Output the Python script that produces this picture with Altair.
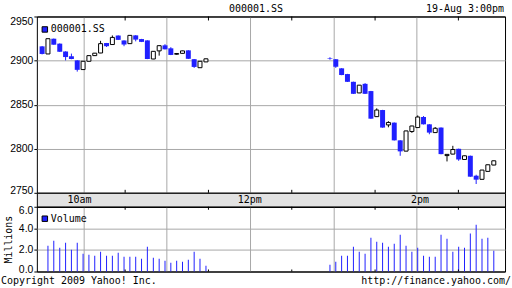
import altair as alt
import pandas as pd

BLUE = "#2020ff"
GRID = "#a8a8a8"
BAND = "#e2e2e2"
MONO = "DejaVu Sans Mono"
SANS = "Liberation Sans"

symbol = "000001.SS"
stamp = "19-Aug 3:00pm"
copyright_text = "Copyright 2009 Yahoo! Inc."
url_text = "http://finance.yahoo.com/"

# bar time in minutes after 9:30 (morning session, then afternoon session)
times = [0.2, 4.4, 8.6, 12.9, 17.1, 21.3, 25.5, 29.7, 33.9, 38.1, 42.3, 46.6, 50.8, 55.0, 59.2,
         63.4, 67.6, 71.8, 76.0, 80.3, 84.5, 88.7, 92.9, 97.1, 101.3, 105.5, 109.7, 113.9, 118.2,
         207.5, 211.7, 215.9, 220.1, 224.4, 228.6, 232.8, 237.0, 241.2, 245.4, 249.6, 253.8, 258.1,
         262.3, 266.5, 270.7, 274.9, 279.1, 283.3, 287.5, 291.8, 296.0, 300.2, 304.4, 308.6, 312.8,
         317.0, 321.2, 325.5]
opens = [2916.1, 2907.5, 2924.8, 2919.2, 2910.3, 2904.9, 2900.2, 2889.8, 2899.2, 2905.6, 2908.6,
         2919.9, 2918.2, 2928.4, 2922.8, 2919.2, 2928.6, 2924.4, 2922.9, 2901.8, 2911.0, 2917.3,
         2913.9, 2907.2, 2908.2, 2911.6, 2901.6, 2891.9, 2898.5,
         2902.6, 2901.5, 2891.2, 2884.7, 2875.9, 2863.3, 2873.6, 2865.4, 2836.4, 2843.9, 2827.0,
         2829.6, 2809.5, 2797.3, 2819.5, 2824.0, 2836.0, 2827.7, 2818.3, 2824.0, 2792.2, 2793.9,
         2799.9, 2787.8, 2792.0, 2769.4, 2765.3, 2774.3, 2781.5]
highs = [2916.5, 2925.0, 2925.0, 2919.5, 2910.5, 2907.9, 2900.5, 2899.5, 2905.8, 2908.6, 2922.4,
         2920.0, 2928.5, 2928.6, 2923.0, 2928.8, 2928.8, 2924.6, 2923.0, 2910.7, 2917.1, 2918.6,
         2915.2, 2908.6, 2911.2, 2911.8, 2901.8, 2899.4, 2902.2,
         2903.8, 2901.7, 2891.4, 2884.9, 2876.1, 2872.3, 2874.4, 2865.6, 2845.8, 2844.1, 2831.2,
         2829.8, 2809.7, 2820.4, 2826.0, 2837.8, 2837.1, 2827.9, 2824.6, 2824.2, 2794.0, 2803.3,
         2800.1, 2792.2, 2792.2, 2770.5, 2776.0, 2782.0, 2786.5]
lows = [2907.0, 2907.5, 2918.0, 2909.8, 2900.2, 2901.5, 2887.5, 2889.5, 2899.0, 2905.4, 2908.4,
        2915.4, 2918.0, 2923.3, 2916.3, 2919.0, 2921.8, 2921.0, 2901.6, 2901.6, 2905.6, 2912.6,
        2906.2, 2906.6, 2908.0, 2901.8, 2891.7, 2891.7, 2898.3,
        2901.0, 2891.7, 2883.4, 2875.7, 2862.1, 2863.1, 2862.1, 2833.9, 2836.2, 2823.8, 2824.3,
        2809.3, 2792.0, 2797.1, 2818.0, 2823.8, 2827.5, 2816.4, 2818.1, 2793.7, 2785.6, 2793.7,
        2786.3, 2787.6, 2768.1, 2760.0, 2765.1, 2774.1, 2781.3]
closes = [2907.5, 2924.8, 2918.0, 2910.0, 2904.0, 2901.8, 2889.5, 2899.2, 2905.6, 2908.4, 2919.2,
          2916.3, 2926.3, 2923.5, 2918.2, 2928.6, 2923.8, 2921.2, 2901.8, 2910.5, 2916.9, 2912.8,
          2906.4, 2908.0, 2911.0, 2902.0, 2892.8, 2899.2, 2902.0,
          2902.0, 2893.0, 2883.6, 2875.9, 2862.3, 2872.1, 2862.3, 2834.1, 2843.9, 2824.0, 2829.8,
          2809.5, 2797.0, 2820.2, 2825.8, 2836.0, 2827.7, 2818.3, 2823.2, 2793.9, 2793.6, 2799.1,
          2787.8, 2792.0, 2768.3, 2764.9, 2775.8, 2781.8, 2786.3]
volumes = [0.0, 2.39, 2.86, 2.20, 2.67, 2.02, 2.67, 1.65, 1.55, 1.46, 1.83, 1.46, 1.46, 1.74, 1.37,
           1.37, 1.37, 1.18, 2.30, 1.27, 1.18, 1.00, 0.81, 1.00, 0.90, 1.09, 1.83, 1.18, 0.53,
           0.62, 0.90, 1.46, 1.46, 2.30, 1.83, 1.65, 3.13, 2.76, 2.67, 2.30, 2.58, 3.41, 2.39,
           1.83, 2.20, 1.46, 1.37, 1.37, 3.41, 3.04, 1.83, 2.30, 2.20, 3.51, 4.34, 3.04, 3.13, 1.93]

hour_marks = [30, 90, 150, 210, 270]
half_hour_marks = [60, 120, 180, 240, 300]
hour_labels = ["10am", "12pm", "2pm"]
hour_label_pos = [30, 150, 270]
price_ticks = [2750, 2800, 2850, 2900, 2950]
vol_ticks = [0, 2, 4, 6]

W, H1, H2, H3 = 470, 177, 14, 65

df = pd.DataFrame({"t": times, "open": opens, "high": highs, "low": lows,
                   "close": closes, "vol": volumes})
df["series"] = symbol
df["vseries"] = "Volume"
ticks_df = pd.DataFrame({"t": half_hour_marks})

xs = alt.Scale(domain=[0, 330], nice=False, zero=False)
x_grid = alt.Axis(values=hour_marks, grid=True, gridColor=GRID, labels=False, ticks=False,
                  domain=False, title=None)


def legend(x, y):
    return alt.Legend(title=None, orient="none", legendX=x, legendY=y, symbolType="square",
                      symbolSize=30, symbolStrokeColor="black", symbolStrokeWidth=1,
                      labelFont=MONO, labelFontSize=10, labelColor="black", labelOffset=1,
                      padding=0)


price_axis = alt.Axis(
    values=price_ticks, format="d", grid=True, domain=False, tickColor="black", tickSize=3,
    labelPadding=1, labelFont=SANS, labelFontSize=10.5, labelColor="black", title=None,
    gridColor={"condition": {"test": "datum.value == 2750 || datum.value == 2950", "value": "black"},
               "value": GRID},
    labelOffset={"condition": [{"test": "datum.value == 2950", "value": 5},
                               {"test": "datum.value == 2750", "value": -2}], "value": 0},
)
py = alt.Scale(domain=[2750, 2950], nice=False, zero=False)

base = alt.Chart(df)
wick = base.mark_rule(strokeWidth=1).encode(
    x=alt.X("t:Q", scale=xs, axis=x_grid),
    y=alt.Y("low:Q", scale=py, axis=price_axis),
    y2="high:Q",
    color=alt.condition("datum.close >= datum.open", alt.value("black"), alt.value(BLUE)),
)
down = base.transform_filter("datum.close < datum.open").mark_bar(size=5).encode(
    x=alt.X("t:Q", scale=xs),
    y=alt.Y("open:Q", scale=py),
    y2="close:Q",
    color=alt.Color("series:N", scale=alt.Scale(domain=[symbol], range=[BLUE]),
                    legend=legend(3, 8)),
)
up = base.transform_filter("datum.close >= datum.open").mark_bar(
    size=4, fill="white", stroke="black", strokeWidth=1).encode(
    x=alt.X("t:Q", scale=xs),
    y=alt.Y("open:Q", scale=py),
    y2="close:Q",
)
top_ticks = alt.Chart(ticks_df).mark_rule(color="black").encode(
    x=alt.X("t:Q", scale=xs), y=alt.value(0), y2=alt.value(4))
bot_ticks = alt.Chart(ticks_df).mark_rule(color="black").encode(
    x=alt.X("t:Q", scale=xs), y=alt.value(H1 - 3), y2=alt.value(H1))
title_txt = alt.Chart(pd.DataFrame({"s": [symbol]})).mark_text(
    font=MONO, fontSize=10, align="center", baseline="middle", color="black").encode(
    text="s:N", x=alt.value(220), y=alt.value(-8))
stamp_txt = alt.Chart(pd.DataFrame({"s": [stamp]})).mark_text(
    font=MONO, fontSize=10, align="right", baseline="middle", color="black").encode(
    text="s:N", x=alt.value(W - 1), y=alt.value(-8))

price = alt.layer(wick, down, up, top_ticks, bot_ticks, title_txt, stamp_txt).properties(
    width=W, height=H1)

band = alt.Chart(pd.DataFrame({"t": hour_label_pos, "label": hour_labels})).mark_text(
    font=MONO, fontSize=10, baseline="middle", color="black").encode(
    x=alt.X("t:Q", scale=xs, axis=None), y=alt.value(H2 / 2), text="label:N"
).properties(width=W, height=H2, view=alt.ViewBackground(fill=BAND, stroke="black"))

vol_axis = alt.Axis(
    values=vol_ticks, format=".1f", grid=True, domain=False, tickColor="black", tickSize=3,
    labelPadding=1, labelFont=SANS, labelFontSize=10.5, labelColor="black",
    title="Millions", titleFont=MONO, titleFontSize=10, titleFontWeight="normal",
    titleColor="black", titlePadding=5,
    gridColor={"condition": {"test": "datum.value == 0 || datum.value == 6", "value": "black"},
               "value": GRID},
    labelOffset={"condition": [{"test": "datum.value == 6", "value": 4},
                               {"test": "datum.value == 0", "value": -2}], "value": 0},
)
vbars = alt.Chart(df).mark_bar(size=1).encode(
    x=alt.X("t:Q", scale=xs, axis=x_grid),
    y=alt.Y("vol:Q", scale=alt.Scale(domain=[0, 6], nice=False), axis=vol_axis),
    color=alt.Color("vseries:N", scale=alt.Scale(domain=["Volume"], range=[BLUE]),
                    legend=legend(3, 7)),
)
vtop = alt.Chart(ticks_df).mark_rule(color="black").encode(
    x=alt.X("t:Q", scale=xs), y=alt.value(0), y2=alt.value(3))
vbot = alt.Chart(ticks_df).mark_rule(color="black").encode(
    x=alt.X("t:Q", scale=xs), y=alt.value(H3 - 2), y2=alt.value(H3))
copy_txt = alt.Chart(pd.DataFrame({"s": [copyright_text]})).mark_text(
    font=MONO, fontSize=10, align="left", baseline="middle", color="black").encode(
    text="s:N", x=alt.value(-36), y=alt.value(H3 + 10))
url_txt = alt.Chart(pd.DataFrame({"s": [url_text]})).mark_text(
    font=MONO, fontSize=10, align="right", baseline="middle", color="black").encode(
    text="s:N", x=alt.value(W + 6), y=alt.value(H3 + 10))

volume = alt.layer(vbars, vtop, vbot, copy_txt, url_txt).properties(width=W, height=H3)

chart = alt.vconcat(price, band, volume, spacing=0, bounds="flush").resolve_scale(
    color="independent").resolve_legend(color="independent").properties(
    padding={"left": 0, "top": 2, "right": 0, "bottom": 0},
    autosize=alt.AutoSizeParams(type="pad"),
    background="white",
).configure_view(stroke="black", strokeWidth=1)

chart.save("out.html", embed_options={"renderer": "svg", "actions": False})
